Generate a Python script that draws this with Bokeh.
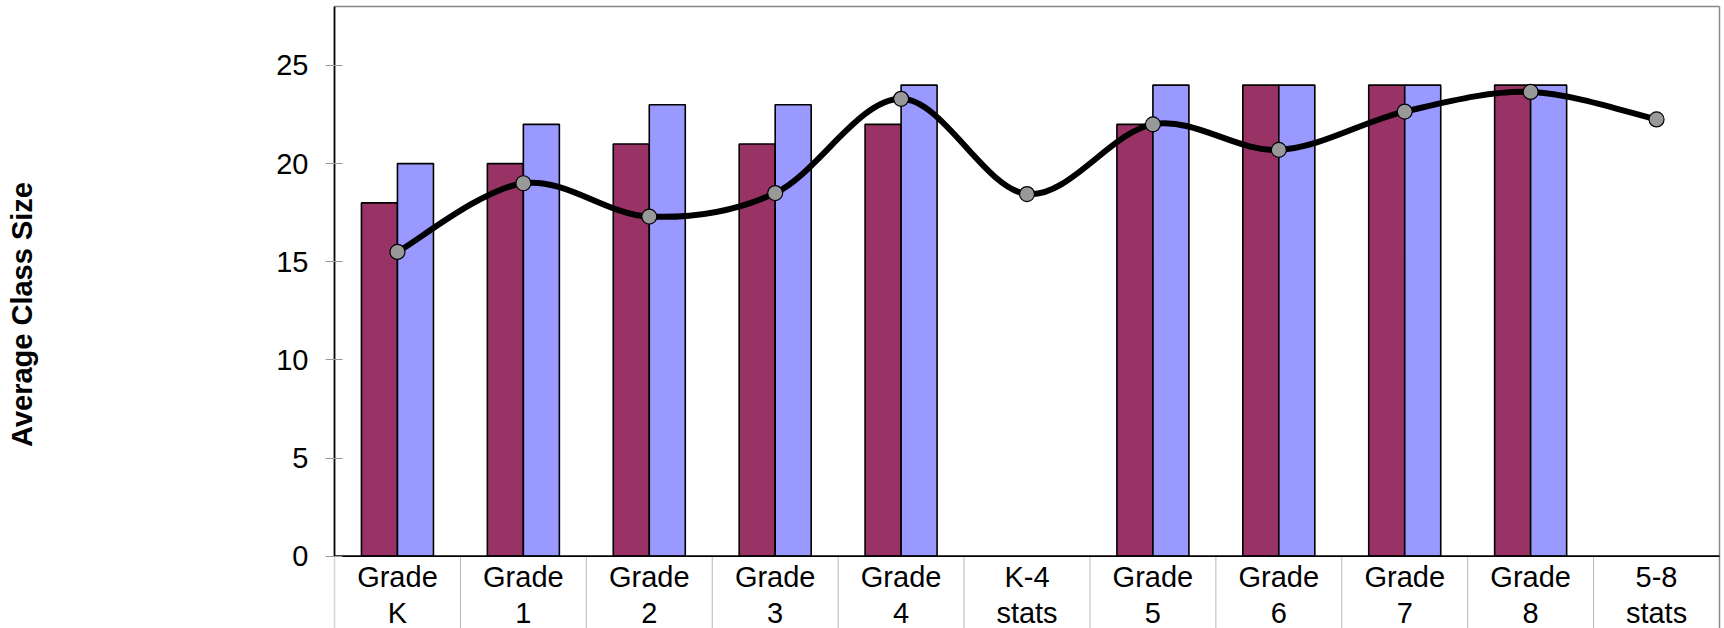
import numpy as np
from bokeh.plotting import figure
from bokeh.models import FixedTicker
from bokeh.core.properties import value
from bokeh.embed import file_html
from bokeh.resources import INLINE

# ---- data ----
categories = ["Grade\nK", "Grade\n1", "Grade\n2", "Grade\n3", "Grade\n4", "K-4\nstats",
              "Grade\n5", "Grade\n6", "Grade\n7", "Grade\n8", "5-8\nstats"]
series_a = [18, 20, 21, 21, 22, np.nan, 22, 24, 24, 24, np.nan]   # maroon bars
series_b = [20, 22, 23, 23, 24, np.nan, 24, 24, 24, 24, np.nan]   # blue bars
line_vals = [15.5, 19.0, 17.3, 18.5, 23.3, 18.45, 22.0, 20.7, 22.65, 23.65, 22.25]
y_ticks = [0, 5, 10, 15, 20, 25]
y_title = "Average Class Size"

FONT = "Liberation Sans"
n = len(categories)
centers = np.arange(n) + 0.5

# scale: 125.9 px per category, 19.63 px per unit
ux = 125.9
pad = 3 / ux
Y_TOP = 28.0
Y_BOT = -3.683
p = figure(width=1724, height=628, output_backend="svg", toolbar_location=None,
           x_range=(-pad, n + pad), y_range=(Y_BOT, 28.31),
           min_border_left=331, min_border_right=2, min_border_top=0, min_border_bottom=0)
p.xaxis.visible = False
p.xgrid.visible = False
p.ygrid.visible = False
p.outline_line_color = None
p.background_fill_color = "white"

ya = p.yaxis[0]
ya.ticker = FixedTicker(ticks=y_ticks)
ya.axis_line_color = None
ya.major_tick_line_color = "#999999"
ya.major_tick_in = 11
ya.major_tick_out = 6
ya.minor_tick_line_color = None
ya.major_label_standoff = 17
ya.major_label_text_font = FONT
ya.major_label_text_font_size = "29px"
ya.major_label_text_color = "black"
ya.axis_label = y_title
ya.axis_label_text_font = FONT
ya.axis_label_text_font_style = "bold"
ya.axis_label_text_font_size = "29px"
ya.axis_label_text_color = "black"
ya.axis_label_standoff = 235

# separators below the axis
sep_x = np.arange(1, n)
p.segment(x0=sep_x, y0=0, x1=sep_x, y1=Y_BOT, line_color="#b8b8b8", line_width=1)
p.segment(x0=[0], y0=[0], x1=[0], y1=[Y_BOT], line_color="#d4d4d4", line_width=1.5)
# frame borders
p.segment(x0=[0], y0=[Y_TOP], x1=[n], y1=[Y_TOP], line_color="#888888", line_width=1.5)
p.segment(x0=[n], y0=[Y_TOP], x1=[n], y1=[Y_BOT], line_color="#888888", line_width=1.5)

# bars
w = 36 / ux
p.vbar(x=centers - w / 2, top=series_a, bottom=0, width=w, fill_color="#993366",
       line_color="black", line_width=1.6)
p.vbar(x=centers + w / 2, top=series_b, bottom=0, width=w, fill_color="#9999FF",
       line_color="black", line_width=1.6)

# axis lines
p.segment(x0=[0], y0=[0], x1=[n], y1=[0], line_color="black", line_width=1.8)
p.segment(x0=[0], y0=[0], x1=[0], y1=[Y_TOP], line_color="black", line_width=1.8)

# smoothed line (Catmull-Rom style bezier through points)
xs = centers
ys = np.array(line_vals)
xp = np.concatenate([[xs[0]], xs, [xs[-1]]])
yp = np.concatenate([[ys[0]], ys, [ys[-1]]])
t = 1 / 6
x0 = xs[:-1]; y0 = ys[:-1]; x1 = xs[1:]; y1 = ys[1:]
cx0 = x0 + (xp[2:-1] - xp[0:-3]) * t
cy0 = y0 + (yp[2:-1] - yp[0:-3]) * t
cx1 = x1 - (xp[3:] - xp[1:-2]) * t
cy1 = y1 - (yp[3:] - yp[1:-2]) * t
p.bezier(x0=x0, y0=y0, x1=x1, y1=y1, cx0=cx0, cy0=cy0, cx1=cx1, cy1=cy1,
         line_color="black", line_width=6)
p.scatter(x=xs, y=ys, size=15, fill_color="#999999", line_color="black", line_width=1.2)

# category labels
p.text(x=centers, y=-0.22, text=categories, text_align="center", text_baseline="top",
       text_font=value(FONT), text_font_size="29px", text_color="black",
       text_line_height=1.15)

open("out.html", "w").write(file_html(p, INLINE))
